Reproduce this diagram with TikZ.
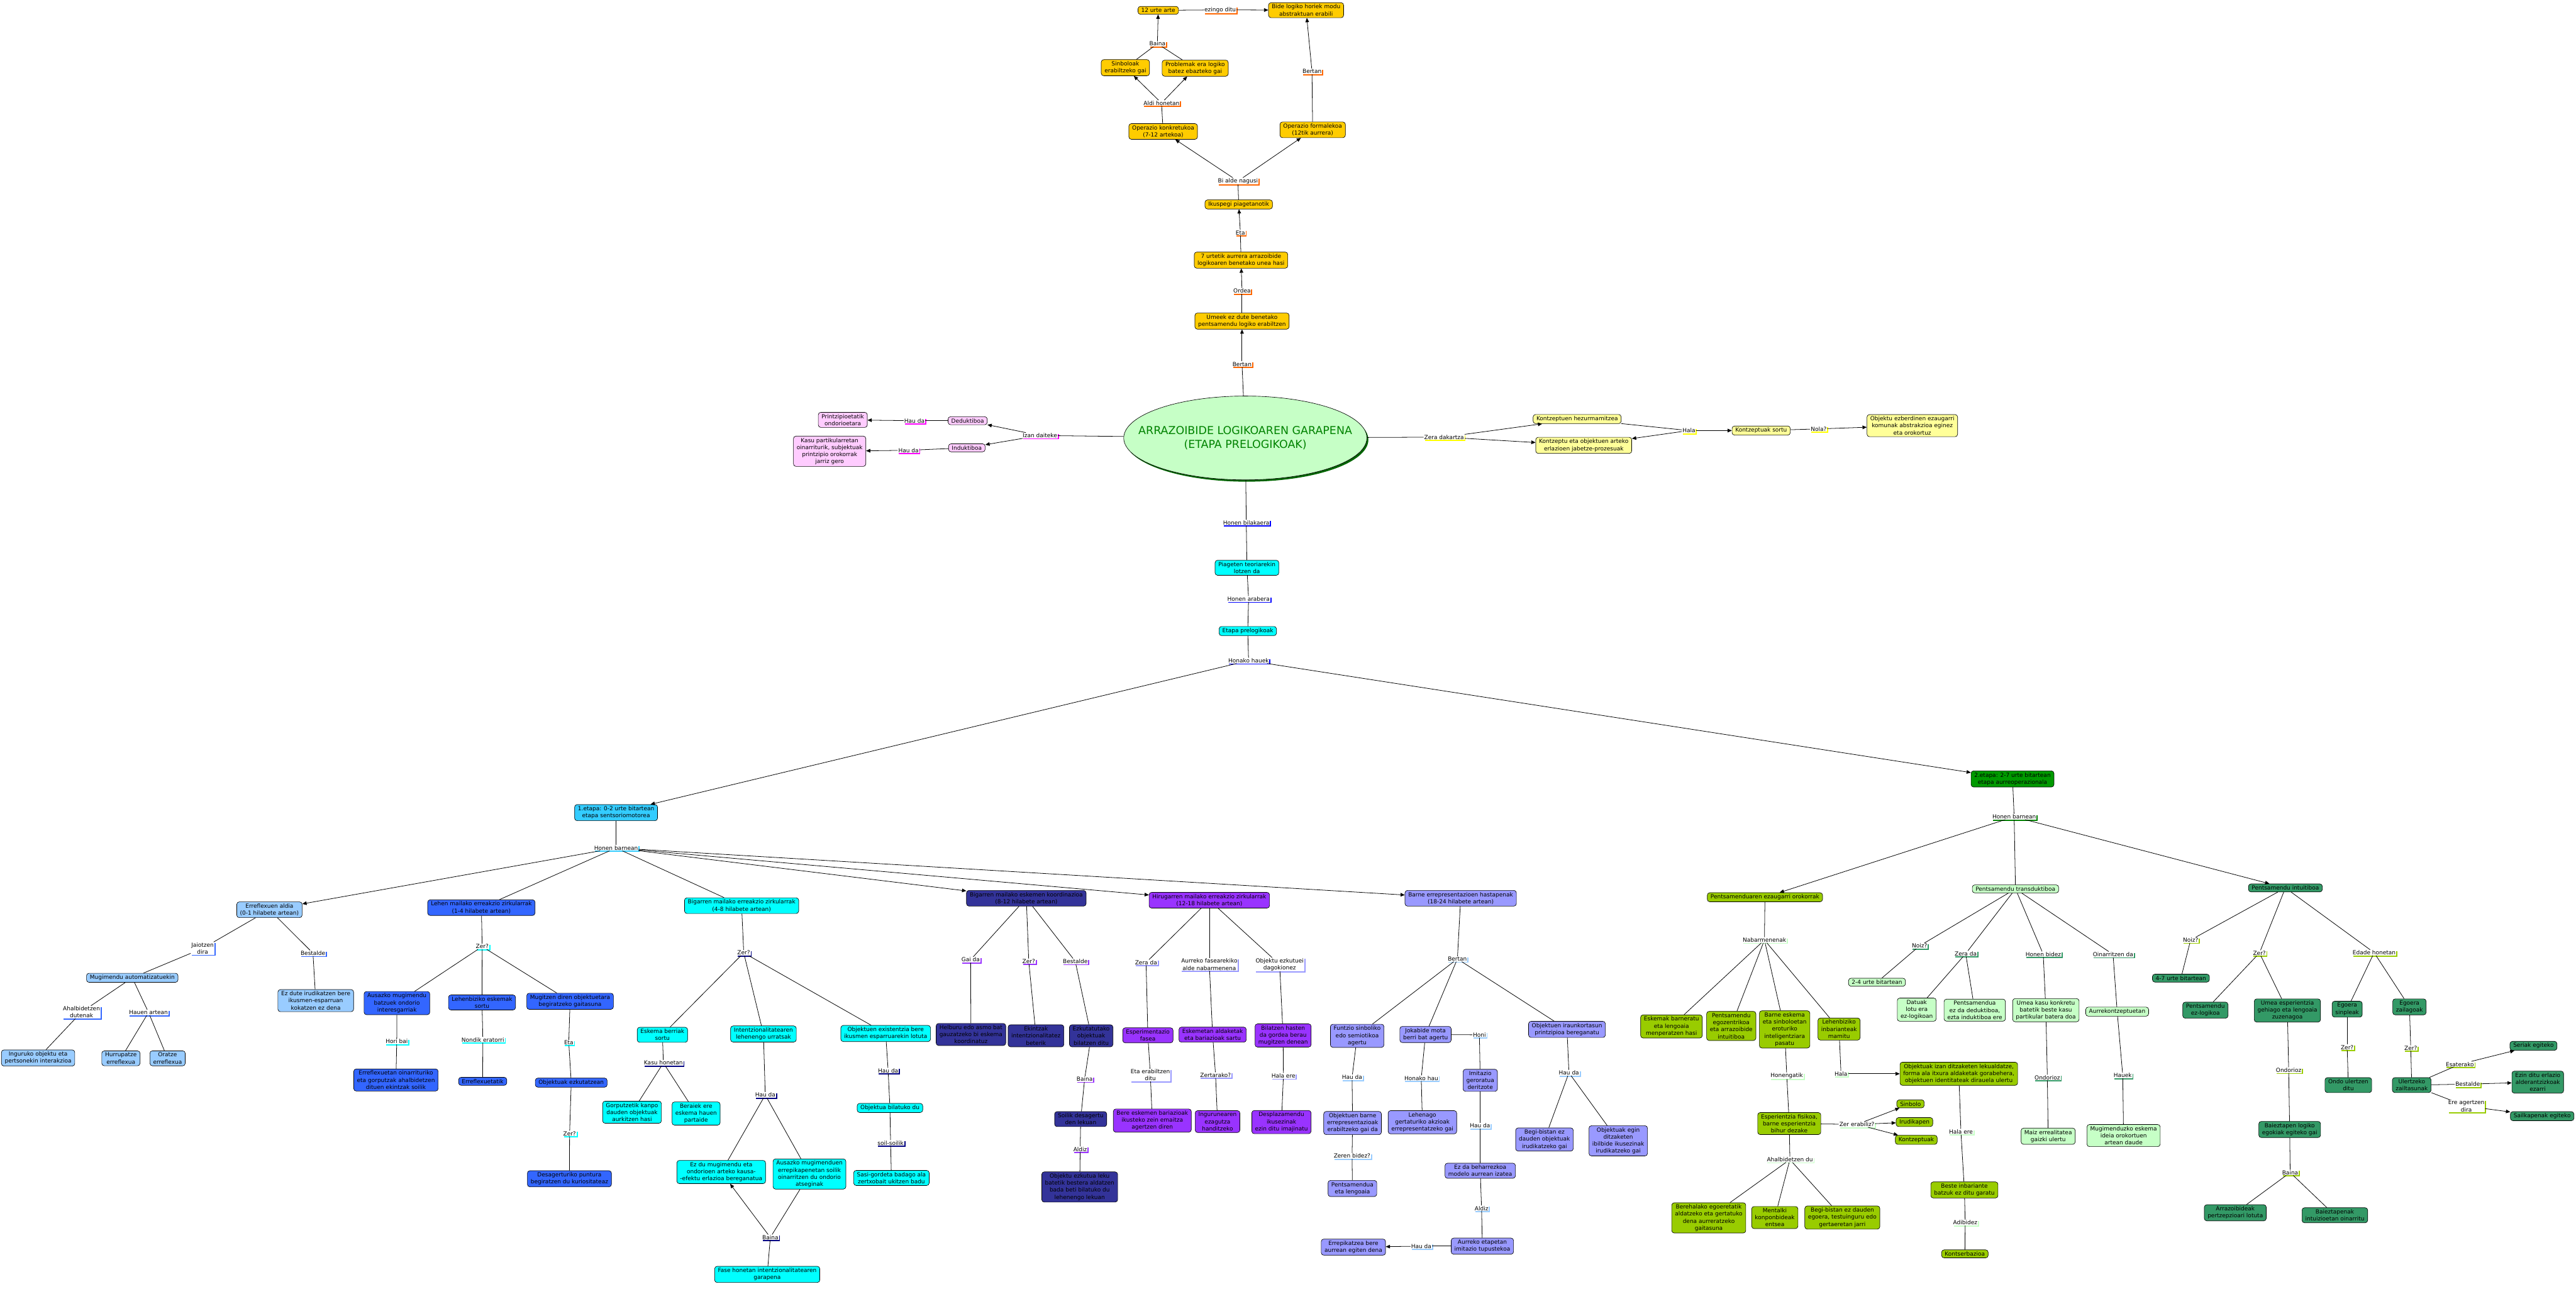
\documentclass[tikz,border=0pt]{standalone}
\usepackage{fontspec}
\setmainfont{DejaVu Sans}
\usetikzlibrary{arrows.meta, shadows, shapes.geometric}

\begin{document}
\begin{tikzpicture}[x=1mm, y=-1mm,
    every node/.style={font=\fontsize{9.8}{12.2}\selectfont, align=center},
    concept/.style={draw=black, line width=0.25mm, rounded corners=1.5mm, fill=#1, inner xsep=2mm, inner ysep=1.1mm},
    phrase/.style={fill=white, inner sep=0.35mm, drop shadow={shadow xshift=0.7mm, shadow yshift=-0.7mm, fill=#1, opacity=1}},
    connector/.style={line width=0.3mm},
    arrowConnector/.style={line width=0.3mm, -{Triangle[length=2.6mm, width=2.2mm]}}]

    % Define colours
    \definecolor{goldFill}{HTML}{FFCC00}
    \definecolor{pinkFill}{HTML}{FFCCFF}
    \definecolor{yellowFill}{HTML}{FFFF99}
    \definecolor{mainFill}{HTML}{C6FFC6}
    \definecolor{titleGreen}{HTML}{008200}
    \definecolor{shadowGreen}{HTML}{006400}
    \definecolor{cyanFill}{HTML}{00FFFF}
    \definecolor{etapaFill}{HTML}{33CCFF}
    \definecolor{reflexFill}{HTML}{99CCFF}
    \definecolor{blueFill}{HTML}{3366FF}
    \definecolor{navyFill}{HTML}{333399}
    \definecolor{purpleFill}{HTML}{9933FF}
    \definecolor{lavFill}{HTML}{9999FF}
    \definecolor{greenFill}{HTML}{009900}
    \definecolor{oliveFill}{HTML}{99CC00}
    \definecolor{paleFill}{HTML}{C6FFC6}
    \definecolor{teaFill}{HTML}{339966}
    \definecolor{lnOrange}{HTML}{FF6600}
    \definecolor{lnMagenta}{HTML}{FF00FF}
    \definecolor{lnYellow}{HTML}{FFFF00}
    \definecolor{lnBlue}{HTML}{0000FF}
    \definecolor{lnSky}{HTML}{33CCFF}
    \definecolor{lnReflex}{HTML}{3366FF}
    \definecolor{lnCyan}{HTML}{00FFFF}
    \definecolor{lnNavy}{HTML}{000080}
    \definecolor{lnPurple}{HTML}{9933FF}
    \definecolor{lnLav}{HTML}{9999FF}
    \definecolor{lnLight}{HTML}{99CCFF}
    \definecolor{lnGreen}{HTML}{008000}
    \definecolor{lnPale}{HTML}{C6FFC6}
    \definecolor{lnTea}{HTML}{339966}
    \definecolor{lnOlive}{HTML}{99CC00}

    \useasboundingbox (0,0) rectangle (1568,784);

    % Draw the central concept
    \node[ellipse, draw=black, line width=0.25mm, fill=mainFill, minimum width=148mm, minimum height=51mm, inner sep=0pt,
          drop shadow={shadow xshift=0.9mm, shadow yshift=-1.1mm, fill=shadowGreen, opacity=1}]
          (mainNode) at (758,266.5) {};
    \node[text=titleGreen, font=\fontsize{19}{24}\selectfont] (mainTitle) at (mainNode.center)
          {ARRAZOIBIDE LOGIKOAREN GARAPENA\\(ETAPA PRELOGIKOAK)};

    % Draw the upper chain
    \node[concept=goldFill] (urte12) at (705,6.3) {12 urte arte};
    \node[concept=goldFill] (bideLogiko) at (795,6.2) {Bide logiko horiek modu\\abstraktuan erabili};
    \node[concept=goldFill] (sinboloak) at (685,41.2) {Sinboloak\\erabiltzeko gai};
    \node[concept=goldFill] (problemak) at (727.5,41.5) {Problemak era logiko\\batez ebazteko gai};
    \node[concept=goldFill] (opKonkretu) at (708,80) {Operazio konkretukoa\\(7-12 artekoa)};
    \node[concept=goldFill] (opFormal) at (799,79) {Operazio formalekoa\\(12tik aurrera)};
    \node[concept=goldFill] (ikuspegi) at (754,124.4) {Ikuspegi piagetanotik};
    \node[concept=goldFill] (zazpiUrte) at (755.4,158.3) {7 urtetik aurrera arrazoibide\\logikoaren benetako unea hasi};
    \node[concept=goldFill] (umeek) at (756,195.4) {Umeek ez dute benetako\\pentsamendu logiko erabiltzen};

    \node[phrase=lnOrange] (lEzingo) at (742.7,6) {ezingo ditu};
    \node[phrase=lnOrange] (lBaina) at (704.5,26.6) {Baina};
    \node[phrase=lnOrange] (lAldi) at (707,62.7) {Aldi honetan};
    \node[phrase=lnOrange] (lBertanGoi) at (798.6,43.5) {Bertan};
    \node[phrase=lnOrange] (lBiAlde) at (753.5,110.2) {Bi alde nagusi};
    \node[phrase=lnOrange] (lEta) at (755,141.6) {Eta};
    \node[phrase=lnOrange] (lOrdea) at (756,177) {Ordea};
    \node[phrase=lnOrange] (lBertan) at (756,221.6) {Bertan};

    \draw[connector] (urte12) -- (lEzingo);
    \draw[arrowConnector] (lEzingo) -- (bideLogiko);
    \foreach \n in {sinboloak, problemak}
        \draw[connector] (\n) -- (lBaina);
    \draw[arrowConnector] (lBaina) -- (urte12);
    \draw[connector] (opKonkretu) -- (lAldi);
    \foreach \n in {sinboloak, problemak}
        \draw[arrowConnector] (lAldi) -- (\n);
    \draw[connector] (opFormal) -- (lBertanGoi);
    \draw[arrowConnector] (lBertanGoi) -- (bideLogiko);
    \draw[connector] (ikuspegi) -- (lBiAlde);
    \foreach \n in {opKonkretu, opFormal}
        \draw[arrowConnector] (lBiAlde) -- (\n);
    \draw[connector] (zazpiUrte) -- (lEta);
    \draw[arrowConnector] (lEta) -- (ikuspegi);
    \draw[connector] (umeek) -- (lOrdea);
    \draw[arrowConnector] (lOrdea) -- (zazpiUrte);
    \draw[connector] (mainNode) -- (lBertan);
    \draw[arrowConnector] (lBertan) -- (umeek);

    % Draw the left branch
    \node[concept=pinkFill] (deduktiboa) at (589,256) {Deduktiboa};
    \node[concept=pinkFill] (induktiboa) at (588.5,272.5) {Induktiboa};
    \node[concept=pinkFill] (printzipio) at (513,255.5) {Printzipioetatik\\ondorioetara};
    \node[concept=pinkFill] (kasuPartik) at (505,274.6) {Kasu partikularretan\\oinarriturik, subjektuak\\printzipio orokorrak\\jarriz gero};

    \node[phrase=lnMagenta] (lIzan) at (633,265) {Izan daiteke};
    \node[phrase=lnMagenta] (lHauDaDed) at (556.6,256) {Hau da};
    \node[phrase=lnMagenta] (lHauDaInd) at (553,274) {Hau da};

    \draw[connector] (mainNode) -- (lIzan);
    \foreach \n in {deduktiboa, induktiboa}
        \draw[arrowConnector] (lIzan) -- (\n);
    \draw[connector] (deduktiboa) -- (lHauDaDed);
    \draw[arrowConnector] (lHauDaDed) -- (printzipio);
    \draw[connector] (induktiboa) -- (lHauDaInd);
    \draw[arrowConnector] (lHauDaInd) -- (kasuPartik);

    % Draw the right branch
    \node[concept=yellowFill] (hezur) at (960,255) {Kontzeptuen hezurmamitzea};
    \node[concept=yellowFill] (erlazio) at (964,271) {Kontzeptu eta objektuen arteko\\erlazioen jabetze-prozesuak};
    \node[concept=yellowFill] (sortu) at (1072,262) {Kontzeptuak sortu};
    \node[concept=yellowFill] (objEzberdin) at (1164,259) {Objektu ezberdinen ezaugarri\\komunak abstrakzioa eginez\\eta orokortuz};

    \node[phrase=lnYellow] (lZera) at (879,266) {Zera dakartza};
    \node[phrase=lnYellow] (lHala) at (1028,262) {Hala};
    \node[phrase=lnYellow] (lNola) at (1107,261) {Nola?};

    \draw[connector] (mainNode) -- (lZera);
    \foreach \n in {hezur, erlazio}
        \draw[arrowConnector] (lZera) -- (\n);
    \draw[connector] (hezur) -- (lHala);
    \foreach \n in {erlazio, sortu}
        \draw[arrowConnector] (lHala) -- (\n);
    \draw[connector] (sortu) -- (lNola);
    \draw[arrowConnector] (lNola) -- (objEzberdin);

    % Draw the lower chain
    \node[concept=cyanFill] (piageten) at (759,345.5) {Piageten teoriarekin\\lotzen da};
    \node[concept=cyanFill] (etapaPre) at (759.5,384) {Etapa prelogikoak};
    \node[phrase=lnBlue] (lBilakaera) at (758.6,318) {Honen bilakaera};
    \node[phrase=lnBlue] (lArabera) at (760,364.5) {Honen arabera};
    \node[phrase=lnBlue] (lHonako) at (760,402) {Honako hauek};

    \node[concept=etapaFill] (etapa1) at (375,494.5) {1.etapa: 0-2 urte bitartean\\etapa sentsoriomotorea};
    \node[concept=greenFill] (etapa2) at (1225,474) {2.etapa: 2-7 urte bitartean\\etapa aurreoperazionala};
    \node[phrase=lnSky] (lBarnean1) at (375,516) {Honen barnean};
    \node[phrase=lnGreen] (lBarnean2) at (1226,497) {Honen barnean};

    \draw[connector] (mainNode) -- (lBilakaera);
    \draw[connector] (lBilakaera) -- (piageten);
    \draw[connector] (piageten) -- (lArabera);
    \draw[connector] (lArabera) -- (etapaPre);
    \draw[connector] (etapaPre) -- (lHonako);
    \foreach \n in {etapa1, etapa2}
        \draw[arrowConnector] (lHonako) -- (\n);
    \draw[connector] (etapa1) -- (lBarnean1);
    \draw[connector] (etapa2) -- (lBarnean2);

    % Draw the sensorimotor substages
    \node[concept=reflexFill] (erreflexu) at (164,553.6) {Erreflexuen aldia\\(0-1 hilabete artean)};
    \node[concept=blueFill] (lehenMaila) at (293,552.3) {Lehen mailako erreakzio zirkularrak\\(1-4 hilabete artean)};
    \node[concept=cyanFill] (bigarrenErr) at (451.4,551.1) {Bigarren mailako erreakzio zirkularrak\\(4-8 hilabete artean)};
    \node[concept=navyFill] (bigarrenEsk) at (624.7,546.6) {Bigarren mailako eskemen koordinazioa\\(8-12 hilabete artean)};
    \node[concept=purpleFill] (hirugarren) at (736.1,547.8) {Hirugarren mailako erreakzio zirkularrak\\(12-18 hilabete artean)};
    \node[concept=lavFill] (barneErr) at (889.1,546.6) {Barne errepresentazioen hastapenak\\(18-24 hilabete artean)};

    \foreach \n in {erreflexu, bigarrenEsk, hirugarren, barneErr}
        \draw[arrowConnector] (lBarnean1) -- (\n);
    \foreach \n in {lehenMaila, bigarrenErr}
        \draw[connector] (lBarnean1) -- (\n);

    % 0-1 months
    \node[concept=reflexFill] (mugAuto) at (80.5,595) {Mugimendu automatizatuekin};
    \node[concept=reflexFill] (ezDute) at (192.2,608.9) {Ez dute irudikatzen bere\\ikusmen-esparruan\\kokatzen ez dena};
    \node[concept=reflexFill] (inguruko) at (23.2,643.8) {Inguruko objektu eta\\pertsonekin interakzioa};
    \node[concept=reflexFill] (hurrupatze) at (73.6,644) {Hurrupatze\\erreflexua};
    \node[concept=reflexFill] (oratze) at (102,644) {Oratze\\erreflexua};
    \node[phrase=lnReflex] (lJaiotzen) at (123.3,577.1) {Jaiotzen\\dira};
    \node[phrase=lnReflex] (lBestaldeR) at (190.5,580) {Bestalde};
    \node[phrase=lnReflex] (lAhalbide) at (49.6,615.9) {Ahalbidetzen\\dutenak};
    \node[phrase=lnReflex] (lHauen) at (90.4,616.1) {Hauen artean};

    \draw[connector] (erreflexu) -- (lJaiotzen);
    \draw[connector] (lJaiotzen) -- (mugAuto);
    \draw[connector] (erreflexu) -- (lBestaldeR);
    \draw[connector] (lBestaldeR) -- (ezDute);
    \draw[connector] (mugAuto) -- (lAhalbide);
    \draw[connector] (lAhalbide) -- (inguruko);
    \draw[connector] (mugAuto) -- (lHauen);
    \foreach \n in {hurrupatze, oratze}
        \draw[connector] (lHauen) -- (\n);

    % 1-4 months
    \node[concept=blueFill] (ausazko) at (241.6,610.4) {Ausazko mugimendu\\batzuek ondorio\\interesgarriak};
    \node[concept=blueFill] (lehenbiziko) at (293.4,610) {Lehenbiziko eskemak\\sortu};
    \node[concept=blueFill] (mugitzen) at (347,609.3) {Mugitzen diren objektuetara\\begiratzeko gaitasuna};
    \node[concept=blueFill] (erreflexuetan) at (241,657.2) {Erreflexuetan oinarrituriko\\eta gorputzak ahalbidetzen\\dituen ekintzak soilik};
    \node[concept=blueFill] (erreflexuetatik) at (293.8,658) {Erreflexuetatik};
    \node[concept=blueFill] (ezkutatzean) at (347.7,658.8) {Objektuak ezkutatzean};
    \node[concept=blueFill] (desagerturiko) at (346.6,717.3) {Desagerturiko puntura\\begiratzen du kuriositateaz};
    \node[phrase=lnCyan] (lZerL) at (293.5,576) {Zer?};
    \node[phrase=lnCyan] (lHoriBai) at (241.5,633.7) {Hori bai};
    \node[phrase=lnCyan] (lNondik) at (293.9,632.7) {Nondik eratorri};
    \node[phrase=lnCyan] (lEtaL) at (346.2,634.4) {Eta};
    \node[phrase=lnCyan] (lZerL2) at (346.7,689.8) {Zer?};

    \draw[connector] (lehenMaila) -- (lZerL);
    \foreach \n in {ausazko, lehenbiziko, mugitzen}
        \draw[connector] (lZerL) -- (\n);
    \draw[connector] (ausazko) -- (lHoriBai);
    \draw[connector] (lHoriBai) -- (erreflexuetan);
    \draw[connector] (lehenbiziko) -- (lNondik);
    \draw[connector] (lNondik) -- (erreflexuetatik);
    \draw[connector] (mugitzen) -- (lEtaL);
    \draw[connector] (lEtaL) -- (ezkutatzean);
    \draw[connector] (ezkutatzean) -- (lZerL2);
    \draw[connector] (lZerL2) -- (desagerturiko);

    % 4-8 months
    \node[concept=cyanFill] (eskemaBerri) at (403.2,629.7) {Eskema berriak\\sortu};
    \node[concept=cyanFill] (intentzio) at (464.7,629.2) {Intentzionalitatearen\\lehenengo urratsak};
    \node[concept=cyanFill] (objExist) at (539.1,628.9) {Objektuen existentzia bere\\ikusmen esparruarekin lotuta};
    \node[concept=cyanFill] (gorputzetik) at (384.7,676.8) {Gorputzetik kanpo\\dauden objektuak\\aurkitzen hasi};
    \node[concept=cyanFill] (beraiek) at (423.7,677.6) {Beraiek ere\\eskema hauen\\partaide};
    \node[concept=cyanFill] (ezDuMug) at (439,713.2) {Ez du mugimendu eta\\ondorioen arteko kausa-\\-efektu erlazioa bereganatua};
    \node[concept=cyanFill] (ausazkoErr) at (492.7,714.4) {Ausazko mugimenduen\\errepikapenetan soilik\\oinarritzen du ondorio\\atseginak};
    \node[concept=cyanFill] (faseHonetan) at (467,775.5) {Fase honetan intentzionalitatearen\\garapena};
    \node[concept=cyanFill] (objBilatu) at (541.7,674.2) {Objektua bilatuko du};
    \node[concept=cyanFill] (sasiGordeta) at (542.6,716.8) {Sasi-gordeta badago ala\\zertxobait ukitzen badu};
    \node[phrase=lnNavy] (lZerB) at (452.7,579.8) {Zer?};
    \node[phrase=lnNavy] (lKasu) at (403.8,646.8) {Kasu honetan};
    \node[phrase=lnNavy] (lHauDaB) at (465.8,666.3) {Hau da};
    \node[phrase=lnNavy] (lBainaB) at (468.9,753) {Baina};
    \node[phrase=lnNavy] (lHauDaB2) at (540.6,651.5) {Hau da};
    \node[phrase=lnNavy] (lSoil) at (542.1,695.5) {soil-soilik};

    \draw[connector] (bigarrenErr) -- (lZerB);
    \foreach \n in {eskemaBerri, intentzio, objExist}
        \draw[connector] (lZerB) -- (\n);
    \draw[connector] (eskemaBerri) -- (lKasu);
    \foreach \n in {gorputzetik, beraiek}
        \draw[connector] (lKasu) -- (\n);
    \draw[connector] (intentzio) -- (lHauDaB);
    \foreach \n in {ezDuMug, ausazkoErr}
        \draw[connector] (lHauDaB) -- (\n);
    \draw[connector] (ausazkoErr) -- (lBainaB);
    \draw[arrowConnector] (lBainaB) -- (ezDuMug);
    \draw[connector] (lBainaB) -- (faseHonetan);
    \draw[connector] (objExist) -- (lHauDaB2);
    \draw[connector] (lHauDaB2) -- (objBilatu);
    \draw[connector] (objBilatu) -- (lSoil);
    \draw[connector] (lSoil) -- (sasiGordeta);

    % 8-12 months
    \node[concept=navyFill] (helburu) at (591,629.5) {Helburu edo asmo bat\\gauzatzeko bi eskema\\koordinatuz};
    \node[concept=navyFill] (ekintzak) at (630.6,630.3) {Ekintzak\\intentzionalitatez\\beterik};
    \node[concept=navyFill] (ezkutatutako) at (664.2,630.3) {Ezkutatutako\\objektuak\\bilatzen ditu};
    \node[concept=navyFill] (soilik) at (657.8,681) {Soilik desagertu\\den lekuan};
    \node[concept=navyFill] (objEzkutua) at (657.2,722.3) {Objektu ezkutua leku\\batetik bestera aldatzen\\bada beti bilatuko du\\lehenengo lekuan};
    \node[phrase=lnPurple] (lGaiDa) at (590.8,584) {Gai da};
    \node[phrase=lnPurple] (lZerE) at (626.2,585) {Zer?};
    \node[phrase=lnPurple] (lBestaldeE) at (654.5,585) {Bestalde};
    \node[phrase=lnPurple] (lBainaE) at (660.2,656.6) {Baina};
    \node[phrase=lnPurple] (lAldizE) at (657.5,699.4) {Aldiz};

    \foreach \l in {lGaiDa, lZerE, lBestaldeE}
        \draw[connector] (bigarrenEsk) -- (\l);
    \draw[connector] (lGaiDa) -- (helburu);
    \draw[connector] (lZerE) -- (ekintzak);
    \draw[connector] (lBestaldeE) -- (ezkutatutako);
    \draw[connector] (ezkutatutako) -- (lBainaE);
    \draw[connector] (lBainaE) -- (soilik);
    \draw[connector] (soilik) -- (lAldizE);
    \draw[connector] (lAldizE) -- (objEzkutua);

    % 12-18 months
    \node[concept=purpleFill] (esperimentazio) at (698.7,630) {Esperimentazio\\fasea};
    \node[concept=purpleFill] (eskemetan) at (738.1,629.6) {Eskemetan aldaketak\\eta bariazioak sartu};
    \node[concept=purpleFill] (bilatzenHasten) at (781,630.1) {Bilatzen hasten\\da gordea berau\\mugitzen denean};
    \node[concept=purpleFill] (bereEskemen) at (701.4,681.9) {Bere eskemen bariazioak\\ikusteko zein emaitza\\agertzen diren};
    \node[concept=purpleFill] (ingurunearen) at (741.1,682.5) {Ingurunearen\\ezagutza\\handitzeko};
    \node[concept=purpleFill] (desplazamendu) at (780,682.8) {Desplazamendu\\ikusezinak\\ezin ditu imajinatu};
    \node[phrase=lnLav] (lZeraDaH) at (697.6,585.7) {Zera da};
    \node[phrase=lnLav] (lAurreko) at (736.1,586.9) {Aurreko fasearekiko\\alde nabarmenena};
    \node[phrase=lnLav] (lObjEzk) at (778.9,586.9) {Objektu ezkutuei\\dagokionez};
    \node[phrase=lnLav] (lEtaErabil) at (700.2,654.2) {Eta erabiltzen\\ditu};
    \node[phrase=lnLav] (lZertarako) at (739.9,654.2) {Zertarako?};
    \node[phrase=lnLav] (lHalaEreH) at (781.2,654.7) {Hala ere};

    \foreach \l in {lZeraDaH, lAurreko, lObjEzk}
        \draw[connector] (hirugarren) -- (\l);
    \draw[connector] (lZeraDaH) -- (esperimentazio);
    \draw[connector] (lAurreko) -- (eskemetan);
    \draw[connector] (lObjEzk) -- (bilatzenHasten);
    \draw[connector] (esperimentazio) -- (lEtaErabil);
    \draw[connector] (lEtaErabil) -- (bereEskemen);
    \draw[connector] (eskemetan) -- (lZertarako);
    \draw[connector] (lZertarako) -- (ingurunearen);
    \draw[connector] (bilatzenHasten) -- (lHalaEreH);
    \draw[connector] (lHalaEreH) -- (desplazamendu);

    % 18-24 months
    \node[concept=lavFill] (funtzio) at (826.1,630.3) {Funtzio sinboliko\\edo semiotikoa\\agertu};
    \node[concept=lavFill] (jokabide) at (867.7,629.5) {Jokabide mota\\berri bat agertu};
    \node[concept=lavFill] (objIraun) at (953.8,626.4) {Objektuen iraunkortasun\\printzipioa bereganatu};
    \node[concept=lavFill] (imitazio) at (901,657.4) {Imitazio\\geroratua\\deritzote};
    \node[concept=lavFill] (objBarne) at (823.3,683.4) {Objektuen barne\\errepresentazioak\\erabiltzeko gai da};
    \node[concept=lavFill] (lehenago) at (865.8,682.9) {Lehenago\\gertaturiko akzioak\\errepresentatzeko gai};
    \node[concept=lavFill] (pentsLengoaia) at (823.2,723.2) {Pentsamendua\\eta lengoaia};
    \node[concept=lavFill] (ezDaBehar) at (901,712.4) {Ez da beharrezkoa\\modelo aurrean izatea};
    \node[concept=lavFill] (aurrekoEtapa) at (902.3,758.3) {Aurreko etapetan\\imitazio tupustekoa};
    \node[concept=lavFill] (errepikatzea) at (823.8,758.9) {Errepikatzea bere\\aurrean egiten dena};
    \node[concept=lavFill] (begiBistan) at (940.1,693.4) {Begi-bistan ez\\dauden objektuak\\irudikatzeko gai};
    \node[concept=lavFill] (objIbilbide) at (985,694.2) {Objektuak egin\\ditzaketen\\ibilbide ikusezinak\\irudikatzeko gai};
    \node[phrase=lnLight] (lBertanB) at (887.1,583.5) {Bertan};
    \node[phrase=lnLight] (lHoni) at (900.5,629.7) {Honi};
    \node[phrase=lnLight] (lHauDaF) at (823,655.5) {Hau da};
    \node[phrase=lnLight] (lHonakoHau) at (865.1,656.1) {Honako hau};
    \node[phrase=lnLight] (lHauDaO) at (955,652.8) {Hau da};
    \node[phrase=lnLight] (lZeren) at (823,703.4) {Zeren bidez?};
    \node[phrase=lnLight] (lHauDaI) at (900.9,685) {Hau da};
    \node[phrase=lnLight] (lAldizB) at (901.8,735.3) {Aldiz};
    \node[phrase=lnLight] (lHauDaA) at (865.1,758.3) {Hau da};

    \draw[connector] (barneErr) -- (lBertanB);
    \foreach \n in {funtzio, jokabide, objIraun}
        \draw[connector] (lBertanB) -- (\n);
    \draw[connector] (funtzio) -- (lHauDaF);
    \draw[connector] (lHauDaF) -- (objBarne);
    \draw[connector] (objBarne) -- (lZeren);
    \draw[connector] (lZeren) -- (pentsLengoaia);
    \draw[connector] (jokabide) -- (lHonakoHau);
    \draw[connector] (lHonakoHau) -- (lehenago);
    \draw[connector] (jokabide) -- (lHoni);
    \draw[connector] (lHoni) -- (imitazio);
    \draw[connector] (imitazio) -- (lHauDaI);
    \draw[connector] (lHauDaI) -- (ezDaBehar);
    \draw[connector] (ezDaBehar) -- (lAldizB);
    \draw[connector] (lAldizB) -- (aurrekoEtapa);
    \draw[connector] (aurrekoEtapa) -- (lHauDaA);
    \draw[arrowConnector] (lHauDaA) -- (errepikatzea);
    \draw[connector] (objIraun) -- (lHauDaO);
    \foreach \n in {begiBistan, objIbilbide}
        \draw[connector] (lHauDaO) -- (\n);

    % Draw the preoperational branches
    \node[concept=oliveFill] (pentsEzaug) at (1074.3,546) {Pentsamenduaren ezaugarri orokorrak};
    \node[concept=paleFill] (transduk) at (1226.8,540.9) {Pentsamendu transduktiboa};
    \node[concept=teaFill] (intuitibo) at (1391.1,540.3) {Pentsamendu intuitiboa};

    \draw[arrowConnector] (lBarnean2) -- (pentsEzaug);
    \draw[connector] (lBarnean2) -- (transduk);
    \draw[arrowConnector] (lBarnean2) -- (intuitibo);

    % General features
    \node[concept=oliveFill] (eskemakBarn) at (1017.4,624.6) {Eskemak barneratu\\eta lengoaia\\menperatzen hasi};
    \node[concept=oliveFill] (egozentriko) at (1053.8,624.3) {Pentsamendu\\egozentrikoa\\eta arrazoibide\\intuitiboa};
    \node[concept=oliveFill] (barneEskema) at (1086.3,626.4) {Barne eskema\\eta sinboloetan\\eroturiko\\inteligentziara\\pasatu};
    \node[concept=oliveFill] (inbarianteak) at (1119.4,626.2) {Lehenbiziko\\inbarianteak\\mamitu};
    \node[concept=oliveFill] (objLekualdatze) at (1192.3,653.4) {Objektuak izan ditzaketen lekualdatze,\\forma ala itxura aldaketak gorabehera,\\objektuen identitateak dirauela ulertu};
    \node[concept=oliveFill] (espFisikoa) at (1089.1,683.7) {Esperientzia fisikoa,\\barne esperientzia\\bihur dezake};
    \node[concept=oliveFill] (sinbolo) at (1162.9,671.7) {Sinbolo};
    \node[concept=oliveFill] (irudikapen) at (1165.3,682.8) {Irudikapen};
    \node[concept=oliveFill] (kontzeptuak) at (1166.4,693.6) {Kontzeptuak};
    \node[concept=oliveFill] (berehalako) at (1040.1,741.1) {Berehalako egoeretatik\\aldatzeko eta gertatuko\\dena aurreratzeko\\gaitasuna};
    \node[concept=oliveFill] (mentalki) at (1080.3,740.9) {Mentalki\\konponbideak\\entsea};
    \node[concept=oliveFill] (begiEgoera) at (1121.4,740.9) {Begi-bistan ez dauden\\egoera, testuinguru edo\\gertaeretan jarri};
    \node[concept=oliveFill] (besteInbar) at (1195.7,724.1) {Beste inbariante\\batzuk ez ditu garatu};
    \node[concept=oliveFill] (kontserbazio) at (1196,763) {Kontserbazioa};
    \node[phrase=lnPale] (lNabar) at (1074,572) {Nabarmenenak};
    \node[phrase=lnPale] (lHonengatik) at (1087.6,654.6) {Honengatik};
    \node[phrase=lnPale] (lHalaP) at (1120.6,653.4) {Hala};
    \node[phrase=lnPale] (lZerErabil) at (1130.3,684.2) {Zer erabiliz?};
    \node[phrase=lnPale] (lAhalbideP) at (1089.5,705.6) {Ahalbidetzen du};
    \node[phrase=lnPale] (lHalaEreP) at (1193.6,688.7) {Hala ere};
    \node[phrase=lnPale] (lAdibidez) at (1196.2,744) {Adibidez};

    \draw[connector] (pentsEzaug) -- (lNabar);
    \foreach \n in {eskemakBarn, egozentriko, barneEskema, inbarianteak}
        \draw[connector] (lNabar) -- (\n);
    \draw[connector] (barneEskema) -- (lHonengatik);
    \draw[connector] (lHonengatik) -- (espFisikoa);
    \draw[connector] (espFisikoa) -- (lZerErabil);
    \foreach \n in {sinbolo, irudikapen, kontzeptuak}
        \draw[arrowConnector] (lZerErabil) -- (\n);
    \draw[connector] (espFisikoa) -- (lAhalbideP);
    \foreach \n in {berehalako, mentalki, begiEgoera}
        \draw[connector] (lAhalbideP) -- (\n);
    \draw[connector] (inbarianteak) -- (lHalaP);
    \draw[arrowConnector] (lHalaP) -- (objLekualdatze);
    \draw[connector] (objLekualdatze) -- (lHalaEreP);
    \draw[connector] (lHalaEreP) -- (besteInbar);
    \draw[connector] (besteInbar) -- (lAdibidez);
    \draw[connector] (lAdibidez) -- (kontserbazio);

    % Transductive thought
    \node[concept=paleFill] (urte24) at (1142.5,597.7) {2-4 urte bitartean};
    \node[concept=paleFill] (datuak) at (1166.7,614.4) {Datuak\\lotu era\\ez-logikoan};
    \node[concept=paleFill] (pentsEzDa) at (1202,614.7) {Pentsamendua\\ez da deduktiboa,\\ezta induktiboa ere};
    \node[concept=paleFill] (umeaKasu) at (1245.3,614.7) {Umea kasu konkretu\\batetik beste kasu\\partikular batera doa};
    \node[concept=paleFill] (maiz) at (1246.7,691.4) {Maiz errealitatea\\gaizki ulertu};
    \node[concept=paleFill] (aurrekontz) at (1288.7,615.6) {Aurrekontzeptuetan};
    \node[concept=paleFill] (mugEskema) at (1292.6,691) {Mugimenduzko eskema\\ideia orokortuen\\artean daude};
    \node[phrase=lnTea] (lNoizT) at (1168.4,575.6) {Noiz?};
    \node[phrase=lnTea] (lZeraDaT) at (1196.5,580.3) {Zera da};
    \node[phrase=lnTea] (lHonenBidez) at (1243.7,580.7) {Honen bidez};
    \node[phrase=lnTea] (lOndoriozT) at (1246.2,655.7) {Ondorioz};
    \node[phrase=lnTea] (lOinarri) at (1286.2,580.8) {Oinarritzen da};
    \node[phrase=lnTea] (lHauek) at (1292.1,654.4) {Hauek};

    \foreach \l in {lNoizT, lZeraDaT, lHonenBidez, lOinarri}
        \draw[connector] (transduk) -- (\l);
    \draw[connector] (lNoizT) -- (urte24);
    \foreach \n in {datuak, pentsEzDa}
        \draw[connector] (lZeraDaT) -- (\n);
    \draw[connector] (lHonenBidez) -- (umeaKasu);
    \draw[connector] (umeaKasu) -- (lOndoriozT);
    \draw[connector] (lOndoriozT) -- (maiz);
    \draw[connector] (lOinarri) -- (aurrekontz);
    \draw[connector] (aurrekontz) -- (lHauek);
    \draw[connector] (lHauek) -- (mugEskema);

    % Intuitive thought
    \node[concept=teaFill] (urte47) at (1327.5,595.2) {4-7 urte bitartean};
    \node[concept=teaFill] (ezLogikoa) at (1342.4,614.7) {Pentsamendu\\ez-logikoa};
    \node[concept=teaFill] (umeaEsp) at (1392.3,614.9) {Umea esperientzia\\gehiago eta lengoaia\\zuzenagoa};
    \node[concept=teaFill] (sinpleak) at (1428.7,614.1) {Egoera\\sinpleak};
    \node[concept=teaFill] (zailagoak) at (1466.6,612.7) {Egoera\\zailagoak};
    \node[concept=teaFill] (ondoUlertzen) at (1429.4,660.3) {Ondo ulertzen\\ditu};
    \node[concept=teaFill] (ulertzeko) at (1468,660.3) {Ulertzeko\\zailtasunak};
    \node[concept=teaFill] (seriak) at (1542.1,636.4) {Seriak egiteko};
    \node[concept=teaFill] (ezinDitu) at (1544.7,658.5) {Ezin ditu erlazio\\alderantzizkoak\\ezarri};
    \node[concept=teaFill] (sailkapenak) at (1547.4,679.2) {Sailkapenak egiteko};
    \node[concept=teaFill] (baieztapenLog) at (1393.7,687.3) {Baieztapen logiko\\egokiak egiteko gai};
    \node[concept=teaFill] (arrazoibideak) at (1360.6,738) {Arrazoibideak\\pertzepzioari lotuta};
    \node[concept=teaFill] (baieztapenak) at (1421.2,739.5) {Baieztapenak\\intuizioetan oinarritu};
    \node[phrase=lnOlive] (lNoizI) at (1333.4,572) {Noiz?};
    \node[phrase=lnOlive] (lZerI) at (1375.3,579.9) {Zer?};
    \node[phrase=lnOlive] (lEdade) at (1445.1,579.7) {Edade honetan};
    \node[phrase=lnOlive] (lZerS) at (1428.7,637.3) {Zer?};
    \node[phrase=lnOlive] (lZerZ) at (1467.4,637.8) {Zer?};
    \node[phrase=lnOlive] (lEsaterako) at (1497.3,647.6) {Esaterako};
    \node[phrase=lnOlive] (lBestaldeI) at (1502.1,659.7) {Bestalde};
    \node[phrase=lnOlive] (lEreAgertzen) at (1501.2,673.1) {Ere agertzen\\dira};
    \node[phrase=lnOlive] (lOndoriozI) at (1393.1,651.2) {Ondorioz};
    \node[phrase=lnOlive] (lBainaI) at (1394,713.5) {Baina};

    \foreach \l in {lNoizI, lZerI, lEdade}
        \draw[connector] (intuitibo) -- (\l);
    \draw[connector] (lNoizI) -- (urte47);
    \foreach \n in {ezLogikoa, umeaEsp}
        \draw[connector] (lZerI) -- (\n);
    \foreach \n in {sinpleak, zailagoak}
        \draw[connector] (lEdade) -- (\n);
    \draw[connector] (sinpleak) -- (lZerS);
    \draw[connector] (lZerS) -- (ondoUlertzen);
    \draw[connector] (zailagoak) -- (lZerZ);
    \draw[connector] (lZerZ) -- (ulertzeko);
    \foreach \l in {lEsaterako, lBestaldeI, lEreAgertzen}
        \draw[connector] (ulertzeko) -- (\l);
    \draw[arrowConnector] (lEsaterako) -- (seriak);
    \draw[arrowConnector] (lBestaldeI) -- (ezinDitu);
    \draw[arrowConnector] (lEreAgertzen) -- (sailkapenak);
    \draw[connector] (umeaEsp) -- (lOndoriozI);
    \draw[connector] (lOndoriozI) -- (baieztapenLog);
    \draw[connector] (baieztapenLog) -- (lBainaI);
    \foreach \n in {arrazoibideak, baieztapenak}
        \draw[connector] (lBainaI) -- (\n);

\end{tikzpicture}
\end{document}
